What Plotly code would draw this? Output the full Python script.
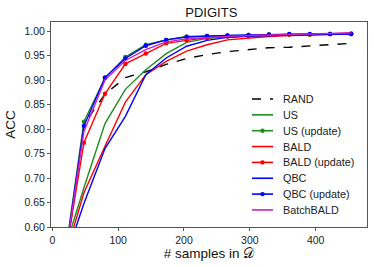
import plotly.graph_objects as go

x_samples = [17, 48, 80, 111, 142, 173, 204, 235, 266, 298, 329, 360, 391, 422, 454]

acc_rand = [0.50, 0.81, 0.871, 0.905, 0.917, 0.932, 0.944, 0.952, 0.958, 0.962, 0.966, 0.967, 0.970, 0.973, 0.975]
acc_us = [0.546, 0.680, 0.811, 0.881, 0.921, 0.954, 0.977, 0.985, 0.988, 0.990, 0.991, 0.992, 0.993, 0.993, 0.994]
acc_us_upd = [0.519, 0.815, 0.904, 0.947, 0.972, 0.982, 0.989, 0.990, 0.991, 0.992, 0.993, 0.993, 0.993, 0.994, 0.994]
acc_bald = [0.529, 0.670, 0.765, 0.855, 0.911, 0.938, 0.959, 0.972, 0.982, 0.986, 0.989, 0.991, 0.993, 0.995, 0.996]
acc_bald_upd = [0.518, 0.772, 0.872, 0.933, 0.954, 0.975, 0.981, 0.986, 0.989, 0.990, 0.992, 0.993, 0.993, 0.994, 0.995]
acc_qbc = [0.524, 0.648, 0.760, 0.826, 0.911, 0.945, 0.969, 0.981, 0.987, 0.990, 0.991, 0.992, 0.993, 0.994, 0.994]
acc_qbc_upd = [0.516, 0.806, 0.905, 0.944, 0.970, 0.982, 0.988, 0.990, 0.991, 0.992, 0.993, 0.994, 0.994, 0.994, 0.994]
acc_batchbald = [0.514, 0.795, 0.900, 0.940, 0.962, 0.978, 0.984, 0.987, 0.989, 0.991, 0.992, 0.993, 0.994, 0.995, 0.996]

series_names = ["RAND", "US", "US (update)", "BALD", "BALD (update)", "QBC", "QBC (update)", "BatchBALD"]
series_values = [acc_rand, acc_us, acc_us_upd, acc_bald, acc_bald_upd, acc_qbc, acc_qbc_upd, acc_batchbald]
series_colors = ["#000000", "#1e8c1e", "#1e8c1e", "#ff0000", "#ff0000", "#0000ff", "#0000ff", "#c81ec8"]
series_dash = ["dash", "solid", "solid", "solid", "solid", "solid", "solid", "solid"]
series_markers = [False, False, True, False, True, False, True, False]

FONT = "Liberation Sans, Arial, sans-serif"

# layout geometry (pixels)
W, H = 374, 267
ML, MR, MT, MB = 51, 7, 22, 40
PW, PH = W - ML - MR, H - MT - MB


def px_to_paper_x(px):
    return (px - ML) / PW


def px_to_paper_y(py):
    return (H - MB - py) / PH


fig = go.Figure()
for name, vals, color, dash, mk in zip(series_names, series_values, series_colors, series_dash, series_markers):
    fig.add_trace(go.Scatter(
        x=x_samples, y=vals, name=name,
        mode="lines+markers" if mk else "lines",
        line=dict(color=color, width=1.4, dash=dash),
        marker=dict(size=4.5, color=color),
        showlegend=False,
    ))

# manual legend (matplotlib-like compact spacing)
shapes = []
annotations = []
leg_x0, leg_x1, leg_tx = 252, 273, 281
leg_y0, leg_dy = 99, 15.85
for i, (name, color, dash, mk) in enumerate(zip(series_names, series_colors, series_dash, series_markers)):
    yy = px_to_paper_y(leg_y0 + i * leg_dy)
    shapes.append(dict(type="line", xref="paper", yref="paper",
                       x0=px_to_paper_x(leg_x0), x1=px_to_paper_x(leg_x1), y0=yy, y1=yy,
                       line=dict(color=color, width=1.6, dash=dash)))
    if mk:
        shapes.append(dict(type="circle", xref="paper", yref="paper",
                           xsizemode="pixel", ysizemode="pixel",
                           xanchor=px_to_paper_x((leg_x0 + leg_x1) / 2), yanchor=yy,
                           x0=-2.2, x1=2.2, y0=-2.2, y1=2.2,
                           fillcolor=color, line=dict(color=color, width=0)))
    annotations.append(dict(text=name, xref="paper", yref="paper",
                            x=px_to_paper_x(leg_tx), y=yy, xanchor="left", yanchor="middle",
                            showarrow=False, font=dict(size=10.8, family=FONT, color="#222")))

fig.update_layout(
    width=W, height=H,
    margin=dict(l=ML, r=MR, t=MT, b=MB, autoexpand=False),
    paper_bgcolor="white", plot_bgcolor="white",
    font=dict(family=FONT, size=10.5, color="#222"),
    title=dict(text="PDIGITS", x=0.565, xanchor="center", y=0.952, yanchor="middle",
               font=dict(size=13, family=FONT, color="#111"), automargin=False),
    showlegend=False,
    shapes=shapes,
    annotations=annotations,
)
fig.update_xaxes(
    range=[-2, 478], tickvals=[0, 100, 200, 300, 400],
    ticks="outside", ticklen=3, tickcolor="#555", showgrid=False, zeroline=False,
    showline=True, linecolor="#555", linewidth=1, mirror=True, automargin=False,
    title=dict(text="# samples in 𝒟", font=dict(size=13.5, family=FONT, color="#111"), standoff=2),
    tickfont=dict(size=10.5),
)
fig.update_yaxes(
    range=[0.60, 1.0185], tickvals=[0.60, 0.65, 0.70, 0.75, 0.80, 0.85, 0.90, 0.95, 1.00],
    tickformat=".2f",
    ticks="outside", ticklen=3, tickcolor="#555", showgrid=False, zeroline=False,
    showline=True, linecolor="#555", linewidth=1, mirror=True, automargin=False,
    title=dict(text="ACC", font=dict(size=13.5, family=FONT, color="#111"), standoff=5),
    tickfont=dict(size=10.5),
)

fig.write_html(
    "out.html",
    config={"displayModeBar": False},
    post_script="document.body.style.margin='0';document.body.style.padding='0';",
)
